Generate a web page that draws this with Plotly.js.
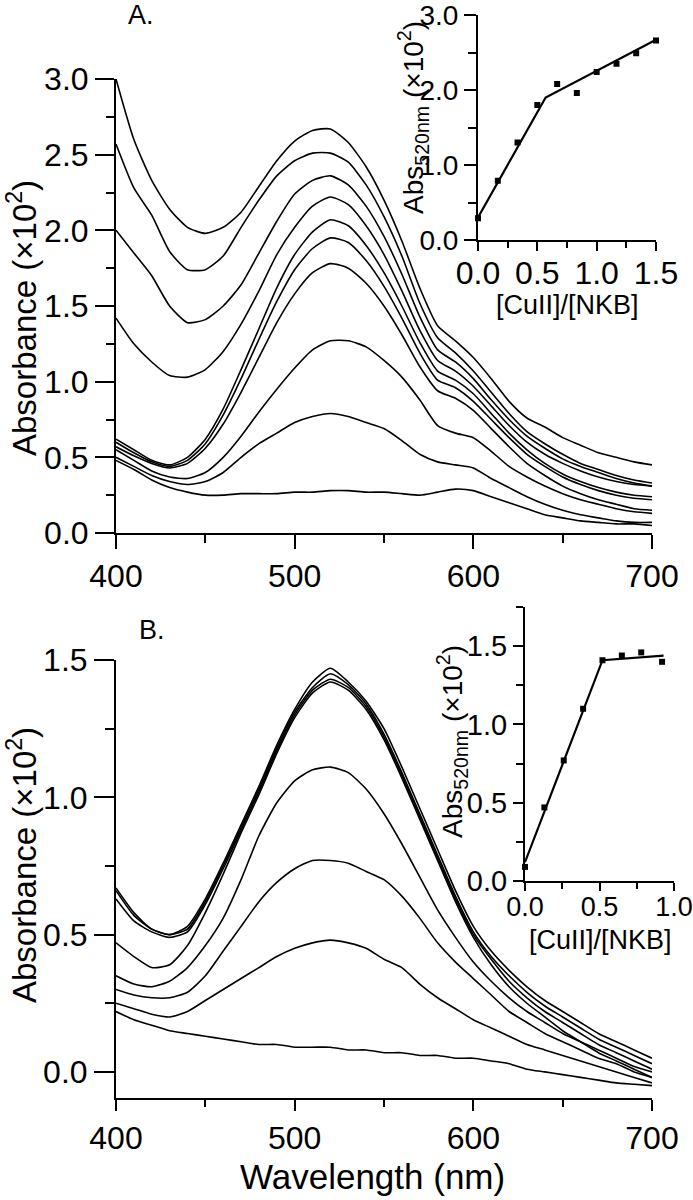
<!DOCTYPE html>
<html><head><meta charset="utf-8">
<script src="https://cdn.plot.ly/plotly-3.0.1.min.js"></script>
<style>html,body{margin:0;padding:0;background:#fff}</style>
</head><body><div id="chart" style="width:693px;height:1200px"></div>
<script>
const wavelength = [400,410,420,430,440,450,460,470,480,490,500,510,520,530,540,550,560,570,580,590,600,610,620,630,640,650,660,670,680,690,700];

// Panel A spectra (Absorbance x10^2)
const specA1 = [3.00,2.60,2.33,2.14,2.02,1.98,2.02,2.12,2.29,2.46,2.59,2.66,2.67,2.58,2.42,2.20,1.93,1.62,1.37,1.27,1.16,1.02,0.87,0.76,0.70,0.63,0.58,0.53,0.50,0.47,0.45];
const specA2 = [2.57,2.28,2.10,1.86,1.74,1.74,1.83,2.02,2.20,2.36,2.46,2.51,2.51,2.45,2.30,2.09,1.83,1.52,1.29,1.19,1.07,0.93,0.79,0.67,0.59,0.52,0.46,0.42,0.38,0.35,0.33];
const specA3 = [2.00,1.85,1.70,1.50,1.39,1.41,1.50,1.64,1.85,2.06,2.24,2.33,2.36,2.30,2.16,1.96,1.71,1.43,1.21,1.13,1.02,0.88,0.75,0.64,0.56,0.49,0.44,0.40,0.36,0.33,0.31];
const specA4 = [1.42,1.25,1.13,1.04,1.03,1.08,1.20,1.38,1.60,1.84,2.02,2.16,2.22,2.17,2.03,1.84,1.60,1.34,1.14,1.07,0.97,0.84,0.71,0.60,0.52,0.46,0.41,0.37,0.34,0.32,0.31];
const specA5 = [0.62,0.55,0.48,0.45,0.50,0.62,0.82,1.08,1.35,1.62,1.84,1.99,2.07,2.03,1.90,1.72,1.50,1.26,1.07,1.01,0.92,0.79,0.66,0.55,0.46,0.39,0.34,0.30,0.27,0.25,0.24];
const specA6 = [0.60,0.53,0.47,0.44,0.48,0.59,0.78,1.02,1.28,1.53,1.74,1.88,1.95,1.92,1.80,1.63,1.42,1.19,1.01,0.96,0.87,0.75,0.63,0.52,0.44,0.37,0.32,0.28,0.25,0.23,0.22];
const specA7 = [0.57,0.51,0.46,0.43,0.46,0.56,0.72,0.93,1.16,1.39,1.58,1.72,1.78,1.75,1.65,1.50,1.31,1.10,0.94,0.89,0.81,0.69,0.57,0.46,0.38,0.31,0.26,0.22,0.19,0.16,0.15];
const specA8 = [0.55,0.48,0.41,0.37,0.36,0.40,0.50,0.64,0.80,0.95,1.09,1.21,1.27,1.27,1.23,1.14,1.03,0.88,0.71,0.66,0.63,0.54,0.44,0.37,0.31,0.26,0.22,0.19,0.16,0.14,0.13];
const specA9 = [0.50,0.44,0.38,0.34,0.32,0.34,0.40,0.50,0.59,0.66,0.73,0.77,0.79,0.77,0.73,0.69,0.61,0.52,0.47,0.45,0.43,0.36,0.30,0.24,0.19,0.15,0.12,0.10,0.08,0.07,0.07];
const specA10 = [0.48,0.42,0.35,0.30,0.27,0.25,0.25,0.26,0.26,0.26,0.27,0.27,0.28,0.28,0.27,0.27,0.26,0.25,0.27,0.29,0.28,0.24,0.20,0.16,0.12,0.10,0.08,0.07,0.06,0.06,0.05];

// Panel A inset
const ratioA = [0,0.167,0.333,0.5,0.667,0.833,1.0,1.167,1.333,1.5];
const abs520A = [0.29,0.79,1.30,1.80,2.08,1.96,2.24,2.35,2.49,2.66];
const fitAx = [0,0.57,1.5];
const fitAy = [0.30,1.90,2.67];

// Panel B spectra
const specB1 = [0.67,0.58,0.52,0.50,0.53,0.63,0.76,0.90,1.04,1.19,1.32,1.42,1.47,1.42,1.35,1.25,1.11,0.96,0.81,0.66,0.53,0.44,0.37,0.31,0.26,0.22,0.18,0.14,0.11,0.08,0.05];
const specB2 = [0.66,0.57,0.52,0.50,0.52,0.62,0.75,0.89,1.03,1.18,1.31,1.40,1.45,1.41,1.34,1.23,1.09,0.94,0.79,0.64,0.51,0.42,0.35,0.29,0.24,0.20,0.16,0.12,0.09,0.06,0.03];
const specB3 = [0.63,0.55,0.51,0.49,0.51,0.61,0.74,0.88,1.02,1.17,1.30,1.39,1.43,1.40,1.33,1.22,1.08,0.93,0.78,0.63,0.50,0.41,0.33,0.27,0.22,0.18,0.14,0.10,0.07,0.04,0.01];
const specB4 = [0.47,0.42,0.38,0.39,0.46,0.58,0.72,0.87,1.01,1.16,1.29,1.38,1.42,1.39,1.32,1.21,1.07,0.92,0.77,0.62,0.49,0.39,0.31,0.25,0.20,0.15,0.11,0.07,0.04,0.01,-0.02];
const specB5 = [0.35,0.32,0.31,0.33,0.38,0.46,0.56,0.70,0.86,0.98,1.06,1.10,1.11,1.09,1.03,0.94,0.83,0.71,0.59,0.49,0.40,0.33,0.27,0.22,0.18,0.14,0.11,0.08,0.05,0.02,0.00];
const specB6 = [0.30,0.28,0.27,0.27,0.29,0.35,0.44,0.53,0.62,0.69,0.74,0.77,0.77,0.76,0.73,0.70,0.64,0.56,0.47,0.40,0.34,0.28,0.22,0.18,0.14,0.11,0.08,0.05,0.03,0.00,-0.02];
const specB7 = [0.25,0.23,0.21,0.20,0.22,0.26,0.30,0.34,0.38,0.42,0.45,0.47,0.48,0.47,0.45,0.41,0.38,0.32,0.27,0.23,0.19,0.16,0.13,0.10,0.08,0.06,0.04,0.02,0.00,-0.02,-0.04];
const specB8 = [0.22,0.19,0.17,0.15,0.14,0.13,0.12,0.11,0.10,0.10,0.09,0.09,0.09,0.08,0.08,0.07,0.07,0.06,0.06,0.05,0.05,0.04,0.03,0.01,0.00,-0.01,-0.02,-0.03,-0.04,-0.045,-0.05];

// Panel B inset
const ratioB = [0,0.13,0.26,0.39,0.52,0.65,0.78,0.92];
const abs520B = [0.09,0.47,0.77,1.10,1.41,1.44,1.46,1.40];
const fitBx = [0,0.52,0.93];
const fitBy = [0.12,1.41,1.44];

const FONT = '"Liberation Sans", Arial, Helvetica, sans-serif';
const lineStyle = {color:'#000', width:1.6, shape:'spline', smoothing:0.6};

const traces = [];
[specA1,specA2,specA3,specA4,specA5,specA6,specA7,specA8,specA9,specA10].forEach(s => {
  traces.push({x:wavelength, y:s, type:'scatter', mode:'lines', line:lineStyle, xaxis:'x', yaxis:'y', hoverinfo:'skip'});
});
[specB1,specB2,specB3,specB4,specB5,specB6,specB7,specB8].forEach(s => {
  traces.push({x:wavelength, y:s, type:'scatter', mode:'lines', line:lineStyle, xaxis:'x3', yaxis:'y3', hoverinfo:'skip'});
});
traces.push({x:fitAx, y:fitAy, type:'scatter', mode:'lines', line:{color:'#000', width:2.2}, xaxis:'x2', yaxis:'y2'});
traces.push({x:ratioA, y:abs520A, type:'scatter', mode:'markers', marker:{symbol:'square', size:6, color:'#000'}, xaxis:'x2', yaxis:'y2', cliponaxis:false});
traces.push({x:fitBx, y:fitBy, type:'scatter', mode:'lines', line:{color:'#000', width:2.2}, xaxis:'x4', yaxis:'y4'});
traces.push({x:ratioB, y:abs520B, type:'scatter', mode:'markers', marker:{symbol:'square', size:6, color:'#000'}, xaxis:'x4', yaxis:'y4', cliponaxis:false});

function ax(o){
  return Object.assign({
    showgrid:false, zeroline:false, showline:true, linecolor:'#000', linewidth:2,
    ticks:'outside', tickcolor:'#000', tickwidth:2, fixedrange:true, ticklabeloverflow:'allow',
    tickfont:{family:FONT, size:32, color:'#000'}
  }, o);
}
const INSET_YFONT = {family:FONT, size:28, color:'#000'};
const INSET_XFONT = {family:FONT, size:32, color:'#000'};

const layout = {
  width:693, height:1200,
  margin:{l:0,r:0,t:0,b:0},
  paper_bgcolor:'#fff', plot_bgcolor:'rgba(0,0,0,0)',
  showlegend:false,
  font:{family:FONT, color:'#000'},
  xaxis: ax({domain:[116/693, 652/693], range:[400,700], tickvals:[400,500,600,700], ticklen:14,
    minor:{dtick:50, tick0:400, ticklen:8, tickwidth:2, tickcolor:'#000', ticks:'outside'}, anchor:'y'}),
  yaxis: ax({domain:[(1200-533)/1200, (1200-79)/1200], range:[0,3], tickvals:[0,0.5,1,1.5,2,2.5,3], tickformat:'.1f', ticklen:19,
    minor:{dtick:0.25, tick0:0, ticklen:8, tickwidth:2, tickcolor:'#000', ticks:'outside'}, anchor:'x'}),
  xaxis2: ax({domain:[478/693, 656/693], range:[0,1.5], tickvals:[0,0.5,1,1.5], tickformat:'.1f', ticklen:9,
    minor:{dtick:0.25, tick0:0, ticklen:6, tickwidth:2, tickcolor:'#000', ticks:'outside'}, anchor:'y2',
    ticklabelstandoff:-5, tickfont:INSET_XFONT}),
  yaxis2: ax({domain:[(1200-240)/1200, (1200-15)/1200], range:[0,3], tickvals:[0,1,2,3], tickformat:'.1f', ticklen:12,
    minor:{dtick:0.5, tick0:0, ticklen:8, tickwidth:2, tickcolor:'#000', ticks:'outside'}, anchor:'x2',
    tickfont:INSET_YFONT}),
  xaxis3: ax({domain:[116/693, 652/693], range:[400,700], tickvals:[400,500,600,700], ticklen:11,
    minor:{dtick:50, tick0:400, ticklen:7, tickwidth:2, tickcolor:'#000', ticks:'outside'}, anchor:'y3'}),
  yaxis3: ax({domain:[(1200-1098)/1200, (1200-660)/1200], range:[-0.095,1.5], tickvals:[0,0.5,1,1.5], tickformat:'.1f', ticklen:20,
    minor:{dtick:0.25, tick0:0, ticklen:9, tickwidth:2, tickcolor:'#000', ticks:'outside'}, anchor:'x3'}),
  xaxis4: ax({domain:[525/693, 674/693], range:[0,1.0], tickvals:[0,0.5,1], tickformat:'.1f', ticklen:8,
    minor:{dtick:0.25, tick0:0, ticklen:6, tickwidth:2, tickcolor:'#000', ticks:'outside'}, anchor:'y4',
    ticklabelstandoff:-7, tickfont:{family:FONT, size:27, color:'#000'}}),
  yaxis4: ax({domain:[(1200-881)/1200, (1200-607)/1200], range:[0,1.75], tickvals:[0,0.5,1,1.5], tickformat:'.1f', ticklen:10,
    minor:{dtick:0.25, tick0:0, ticklen:7, tickwidth:2, tickcolor:'#000', ticks:'outside'}, anchor:'x4',
    tickfont:{family:FONT, size:29, color:'#000'}}),
  annotations: [
    {text:'A.', x:141/693, y:1-15/1200, xref:'paper', yref:'paper', showarrow:false, xanchor:'center', yanchor:'middle', font:{family:FONT, size:27}},
    {text:'B.', x:152/693, y:1-630/1200, xref:'paper', yref:'paper', showarrow:false, xanchor:'center', yanchor:'middle', font:{family:FONT, size:27}},
    {text:'Absorbance (×10<sup>2</sup>)', x:22/693, y:1-318/1200, xref:'paper', yref:'paper', showarrow:false, textangle:-90, xanchor:'center', yanchor:'middle', font:{family:FONT, size:33}},
    {text:'Absorbance (×10<sup>2</sup>)', x:22/693, y:1-865/1200, xref:'paper', yref:'paper', showarrow:false, textangle:-90, xanchor:'center', yanchor:'middle', font:{family:FONT, size:33}},
    {text:'Wavelength (nm)', x:372/693, y:1-1176/1200, xref:'paper', yref:'paper', showarrow:false, xanchor:'center', yanchor:'middle', font:{family:FONT, size:35}},
    {text:'[CuII]/[NKB]', x:567/693, y:1-305/1200, xref:'paper', yref:'paper', showarrow:false, xanchor:'center', yanchor:'middle', font:{family:FONT, size:27}},
    {text:'[CuII]/[NKB]', x:600/693, y:1-940/1200, xref:'paper', yref:'paper', showarrow:false, xanchor:'center', yanchor:'middle', font:{family:FONT, size:27}},
    {text:'Abs<sub>520nm</sub> (×10<sup>2</sup>)', x:413/693, y:1-117/1200, xref:'paper', yref:'paper', showarrow:false, textangle:-90, xanchor:'center', yanchor:'middle', font:{family:FONT, size:28}},
    {text:'Abs<sub>520nm</sub> (×10<sup>2</sup>)', x:452/693, y:1-742/1200, xref:'paper', yref:'paper', showarrow:false, textangle:-90, xanchor:'center', yanchor:'middle', font:{family:FONT, size:28}}
  ]
};

Plotly.newPlot('chart', traces, layout, {staticPlot:true, displayModeBar:false});
</script>
</body></html>
